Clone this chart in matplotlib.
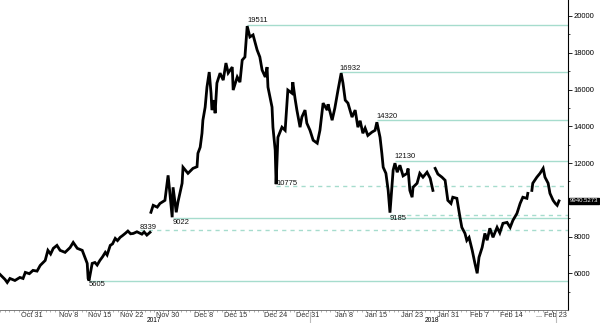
import numpy as np
import matplotlib
matplotlib.use('Agg')
import matplotlib.pyplot as plt

# x = days since Oct 31 2017, y = price (nan = gap in the feed)
day = [-7.1, -6.0, -5.5, -4.9, -3.8, -2.7, -2.0, -1.5, -0.6, 0.2, 1.1, 1.8, 2.9, 3.5, 4.1, 4.7,
       5.5, 6.2, 7.3, 8.4, 9.1, 10.0, 11.1, 11.7, 12.2, 12.4, 12.6, 13.3, 13.9, 14.4, 15.0, 15.6,
       16.2, 16.6, 17.3, 17.8, 18.4, 18.9, 19.5, 20.0, 20.6, 21.2, 21.8, 22.4, 23.2, 24.3, 24.8,
       25.4, 26.1,
       26.2,
       26.3, 26.8, 27.7, 28.3, 29.4, 30.1, 30.5, 31.0, 31.2, 31.9, 32.3, 33.2, 33.4, 34.5,
       35.6, 36.5, 36.7, 37.2, 37.6, 37.8, 38.3, 38.7, 39.2, 39.6, 39.8, 40.3, 40.5, 40.9,
       41.6, 42.3, 42.9, 43.4, 44.3, 44.5, 45.4, 46.0, 46.5, 47.1, 47.6, 48.2, 48.9, 49.8,
       50.4, 50.9, 51.6, 52.0, 52.2, 53.1, 53.3, 53.8, 54.0, 54.4, 55.3, 56.0, 56.6, 57.5,
       57.7, 58.2, 58.6, 59.3, 59.7, 60.4, 60.8, 61.5, 62.2, 63.1, 63.7, 64.4, 65.3, 65.5,
       66.4, 67.0, 67.7, 68.4, 68.8, 69.3, 69.9, 70.8, 71.5, 72.1, 72.6, 73.2, 73.7, 74.3,
       75.2, 75.9, 76.3, 77.0, 77.4, 77.7, 78.3, 78.8, 79.2, 79.7, 79.9, 80.3, 80.8, 81.4,
       82.1, 83.0, 83.2, 83.6, 84.1, 84.3, 85.2, 85.8, 86.5, 87.4, 88.1, 88.7,
       88.9,
       89.2, 89.8, 90.7, 91.4, 92.0, 92.7, 93.1, 94.0, 94.7, 95.1, 95.8, 96.2, 96.7, 97.4,
       98.0, 98.5, 98.9, 99.6, 100.2, 100.7, 101.3, 102.0, 102.9, 103.5, 104.2, 105.1,
       105.8, 106.4, 107.3, 108.0, 108.6, 109.5, 109.7,
       110.2,
       110.6, 110.8, 111.7, 112.4, 113.1, 113.5, 114.2, 114.6, 115.3, 115.8, 116.2, 116.6]
price = [5940, 5670, 5500, 5720, 5610, 5775, 5720, 6050, 5980, 6160, 6120, 6430, 6700, 7250, 7050, 7360,
         7520, 7250, 7140, 7400, 7680, 7360, 7250, 6870, 6540, 5720, 5605, 6540, 6590, 6450, 6700, 6900,
         7140, 7000, 7520, 7600, 7900, 7780, 7960, 8050, 8170, 8300, 8150, 8170, 8260, 8130, 8250,
         8080, 8230,
         np.nan,
         9320, 9700, 9600, 9800, 9970, 11330, 10350, 9050, 10680, 9320, 9900, 10900, 11770, 11440,
         11710, 11800, 12530, 12860, 13620, 14330, 15040, 16130, 16950, 15800, 14880, 15420, 14710, 16350,
         16890, 16510, 17440, 16900, 17220, 15970, 16680, 16400, 17600, 17770, 19450, 18860, 18970, 18150,
         17770, 17060, 16680, 17220, 16130, 15040, 13950, 12700, 10850, 13400, 13950, 13780, 15970, 15800,
         16400, 15500, 14880, 13950, 14500, 14880, 14170, 13780, 13240, 13080, 13780, 15260, 14880, 15200,
         14330, 14990, 15970, 16890, 16350, 15420, 15260, 14500, 14880, 13950, 14300, 13620, 13900, 13500,
         13680, 13780, 14220, 13400, 12530, 11770, 11440, 10510, 9300, 10900, 11610, 11990, 11500, 11880,
         11300, 11440, 11700, 10510, 10140, 10680, 10900, 11440, 11230, 11500, 11170, 10510,
         np.nan,
         11710, 11400, 11230, 11060, 9970, 9800, 10140, 10080, 9040, 8500, 8170, 7790, 7950, 7250,
         6540, 6000, 6870, 7410, 8170, 7800, 8450, 7960, 8500, 8200, 8720, 8770,
         8500, 8880, 9260, 9800, 10140, 10080, 10350,
         np.nan,
         10510, 10900, 11230, 11440, 11710, 11230, 10900, 10350, 9970, 9800, 9700, 9940]

# annotated levels: value, start day, solid?, label offset (price units)
level_val = [19511, 16932, 14320, 12130, 10775, 9185, 9022, 8339, 5605]
level_start = [47.6, 68.1, 76.3, 80.3, 54.0, 79.2, 31.2, 23.9, 12.6]
level_solid = [True, True, True, True, False, False, True, False, True]
level_lab_dy = [260, 200, 200, 200, 100, -180, -270, 170, -230]

y_ticks = [6000, 8000, 10000, 12000, 14000, 16000, 18000, 20000]
y_tick_labels = ['6000', '8000', '', '12000', '14000', '16000', '18000', '20000']  # 10000 sits under the price tag
tick_days = [0, 8, 15, 22, 30, 38, 45, 54, 61, 69, 76, 84, 92, 99, 106, 115]
tick_labels = ['Oct 31', 'Nov 8', 'Nov 15', 'Nov 22', 'Nov 30', 'Dec 8', 'Dec 15', 'Dec 24',
               'Dec 31', 'Jan 8', 'Jan 15', 'Jan 23', 'Jan 31', 'Feb 7', 'Feb 14', '... Feb 23']
last_value = 9940.5273
last_price = '9940.5273'

font = ['Liberation Sans Narrow', 'Liberation Sans', 'DejaVu Sans']
plt.rcParams['font.family'] = font

fig = plt.figure(figsize=(6, 3.23), dpi=100)
ax = fig.add_axes([0, 0.040, 0.9467, 0.960])

line_col = '#a6dccd'
for v, s, solid, dy in zip(level_val, level_start, level_solid, level_lab_dy):
    ax.hlines(v, s, 120, color=line_col, lw=1.0,
              linestyles='-' if solid else (0, (3, 3)), zorder=1)
    ax.text(s, v + dy, str(v), fontsize=5.5, ha='left', va='center', color='#111', zorder=4)

ax.plot(day, price, color='black', lw=2.0, solid_joinstyle='miter', zorder=3)

ax.set_xlim(-7.1, 118.6)
ax.set_ylim(4000, 20870)

for sp in ['left', 'top']:
    ax.spines[sp].set_visible(False)
ax.spines['right'].set_linewidth(0.8)
ax.spines['bottom'].set_linewidth(0.6)
ax.spines['bottom'].set_color('#666')

ax.yaxis.tick_right()
ax.set_yticks(y_ticks)
ax.set_yticklabels(y_tick_labels, fontsize=5.5)
ax.set_yticks(range(5000, 20001, 1000), minor=True)
ax.tick_params(axis='y', which='major', length=3, width=0.6, pad=1)
ax.tick_params(axis='y', which='minor', length=1.5, width=0.5)

ax.set_xticks(tick_days)
ax.set_xticklabels(tick_labels, fontsize=5.3)
ax.set_xticks(np.arange(-7, 119, 1), minor=True)
ax.tick_params(axis='x', which='major', length=1.2, width=0.5, pad=0, colors='#333')
ax.tick_params(axis='x', which='minor', length=1.2, width=0.4, color='#777')

# last price tag
ax.annotate(last_price, xy=(1.0, last_value), xycoords=('axes fraction', 'data'),
            xytext=(1.2, 0), textcoords='offset points',
            fontsize=4.3, color='white', ha='left', va='center', zorder=5,
            bbox=dict(boxstyle='square,pad=0.1', fc='black', ec='black'), annotation_clip=False)

# year labels and separators
fig.text(154 / 600, 1 - 320.5 / 323, '2017', fontsize=4.8, ha='center', va='center')
fig.text(432 / 600, 1 - 320.5 / 323, '2018', fontsize=4.8, ha='center', va='center')
for xs in [310 / 600, 556 / 600]:
    fig.add_artist(plt.Line2D([xs, xs], [0, 1 - 312 / 323], color='#bbb', lw=0.8))

fig.savefig('out.png', dpi=100)
